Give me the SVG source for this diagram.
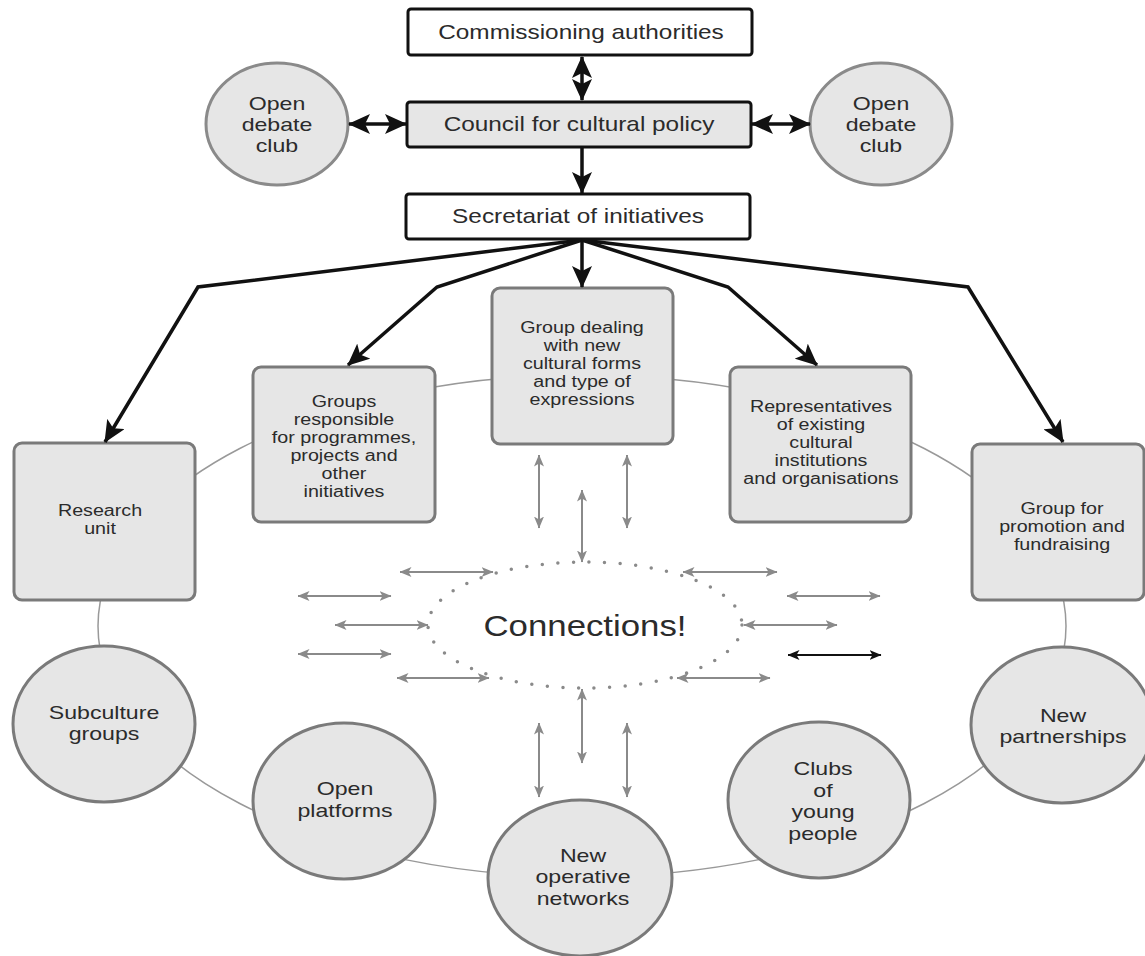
<svg xmlns="http://www.w3.org/2000/svg" width="1145" height="956" viewBox="0 0 1145 956">
<defs>
<marker id="big" markerUnits="userSpaceOnUse" markerWidth="22" markerHeight="20" viewBox="0 0 22 20" refX="21" refY="10" orient="auto-start-reverse"><path d="M0,0 L22,10 L0,20 L5,10 z" fill="#111"/></marker>
<marker id="sm" markerUnits="userSpaceOnUse" markerWidth="12" markerHeight="10" viewBox="0 0 12 10" refX="11.5" refY="5" orient="auto-start-reverse"><path d="M0,0 L12,5 L0,10 L3,5 z" fill="#8a8a8a"/></marker>
<marker id="smk" markerUnits="userSpaceOnUse" markerWidth="12" markerHeight="10" viewBox="0 0 12 10" refX="11.5" refY="5" orient="auto-start-reverse"><path d="M0,0 L12,5 L0,10 L3,5 z" fill="#111"/></marker>
</defs>
<style>
.top{fill:#fff;stroke:#111;stroke-width:3}
.topg{fill:#e6e6e6;stroke:#111;stroke-width:3}
.nd{fill:#e6e6e6;stroke:#7a7a7a;stroke-width:3}
.ring{fill:none;stroke:#999;stroke-width:1.5}
.dots{fill:none;stroke:#8a8a8a;stroke-width:3.5;stroke-linecap:round;stroke-dasharray:0 15.6}
.bl{fill:none;stroke:#111;stroke-width:3.5;stroke-linejoin:miter}
.blh{marker-end:url(#big)}
.bld{marker-start:url(#big);marker-end:url(#big)}
.gr{fill:none;stroke:#8a8a8a;stroke-width:2;marker-start:url(#sm);marker-end:url(#sm)}
.gk{fill:none;stroke:#111;stroke-width:2;marker-start:url(#smk);marker-end:url(#smk)}
.t{font-family:"Liberation Sans",Arial,Helvetica,sans-serif;fill:#2b2b2b;text-anchor:middle}
.f21{font-size:21px}.f19{font-size:18.8px}.f16{font-size:16px}.f30{font-size:30px}
</style>
<rect x="0" y="0" width="1145" height="956" fill="#ffffff"/>

<g id="ring">
<ellipse class="ring" cx="582" cy="626" rx="484" ry="251"/>
</g>

<g id="connections-hub">
<ellipse class="dots" cx="585" cy="625" rx="157" ry="63"/>
<text class="t f30" transform="translate(585 0) scale(1.16 1)" x="0" y="636">Connections!</text>
</g>

<g id="commissioning">
<rect class="top" x="408" y="9" width="344" height="46" rx="3"/>
<text class="t f21" transform="translate(581 0) scale(1.16 1)" x="0" y="39">Commissioning authorities</text>
</g>
<g id="council">
<rect class="topg" x="407" y="102" width="344" height="45" rx="3"/>
<text class="t f21" transform="translate(579 0) scale(1.16 1)" x="0" y="131">Council for cultural policy</text>
</g>
<g id="secretariat">
<rect class="top" x="406" y="194" width="344" height="45" rx="3"/>
<text class="t f21" transform="translate(578 0) scale(1.16 1)" x="0" y="223">Secretariat of initiatives</text>
</g>
<g id="debate-left">
<ellipse class="nd" cx="277" cy="124" rx="71" ry="61" style="stroke:#8a8a8a"/>
<text class="t f19" transform="translate(277 0) scale(1.23 1)"><tspan x="0" y="110">Open</tspan><tspan x="0" y="131">debate</tspan><tspan x="0" y="152">club</tspan></text>
</g>
<g id="debate-right">
<ellipse class="nd" cx="881" cy="124" rx="71" ry="61" style="stroke:#8a8a8a"/>
<text class="t f19" transform="translate(881 0) scale(1.23 1)"><tspan x="0" y="110">Open</tspan><tspan x="0" y="131">debate</tspan><tspan x="0" y="152">club</tspan></text>
</g>

<g id="research">
<rect class="nd" x="14" y="443" width="181" height="157" rx="8"/>
<text class="t f16" transform="translate(100 0) scale(1.23 1)"><tspan x="0" y="516">Research</tspan><tspan x="0" y="534">unit</tspan></text>
</g>
<g id="groups-responsible">
<rect class="nd" x="253" y="367" width="182" height="155" rx="8"/>
<text class="t f16" transform="translate(344 0) scale(1.23 1)"><tspan x="0" y="407">Groups</tspan><tspan x="0" y="425">responsible</tspan><tspan x="0" y="443">for programmes,</tspan><tspan x="0" y="461">projects and</tspan><tspan x="0" y="479">other</tspan><tspan x="0" y="497">initiatives</tspan></text>
</g>
<g id="group-dealing">
<rect class="nd" x="492" y="288" width="181" height="156" rx="8"/>
<text class="t f16" transform="translate(582 0) scale(1.23 1)"><tspan x="0" y="333">Group dealing</tspan><tspan x="0" y="351">with new</tspan><tspan x="0" y="369">cultural forms</tspan><tspan x="0" y="387">and type of</tspan><tspan x="0" y="405">expressions</tspan></text>
</g>
<g id="representatives">
<rect class="nd" x="730" y="367" width="181" height="155" rx="8"/>
<text class="t f16" transform="translate(821 0) scale(1.23 1)"><tspan x="0" y="412">Representatives</tspan><tspan x="0" y="430">of existing</tspan><tspan x="0" y="448">cultural</tspan><tspan x="0" y="466">institutions</tspan><tspan x="0" y="484">and organisations</tspan></text>
</g>
<g id="promotion">
<rect class="nd" x="972" y="444" width="172" height="156" rx="8"/>
<text class="t f16" transform="translate(1062 0) scale(1.23 1)"><tspan x="0" y="514">Group for</tspan><tspan x="0" y="532">promotion and</tspan><tspan x="0" y="550">fundraising</tspan></text>
</g>

<g id="subculture">
<ellipse class="nd" cx="104" cy="724" rx="91" ry="78"/>
<text class="t f19" transform="translate(104 0) scale(1.23 1)"><tspan x="0" y="719">Subculture</tspan><tspan x="0" y="740">groups</tspan></text>
</g>
<g id="open-platforms">
<ellipse class="nd" cx="344" cy="801" rx="91" ry="78"/>
<text class="t f19" transform="translate(345 0) scale(1.23 1)"><tspan x="0" y="795">Open</tspan><tspan x="0" y="817">platforms</tspan></text>
</g>
<g id="operative-networks">
<ellipse class="nd" cx="580" cy="878" rx="92" ry="78"/>
<text class="t f19" transform="translate(583 0) scale(1.23 1)"><tspan x="0" y="862">New</tspan><tspan x="0" y="883">operative</tspan><tspan x="0" y="905">networks</tspan></text>
</g>
<g id="clubs">
<ellipse class="nd" cx="819" cy="800" rx="91" ry="78"/>
<text class="t f19" transform="translate(823 0) scale(1.23 1)"><tspan x="0" y="775">Clubs</tspan><tspan x="0" y="797">of</tspan><tspan x="0" y="818">young</tspan><tspan x="0" y="840">people</tspan></text>
</g>
<g id="partnerships">
<ellipse class="nd" cx="1062" cy="725" rx="91" ry="78"/>
<text class="t f19" transform="translate(1063 0) scale(1.23 1)"><tspan x="0" y="722">New</tspan><tspan x="0" y="743">partnerships</tspan></text>
</g>

<g id="connectors">
<line class="bl bld" x1="582" y1="57" x2="582" y2="100"/>
<line class="bl bld" x1="349" y1="124" x2="406" y2="124"/>
<line class="bl bld" x1="752" y1="124" x2="810" y2="124"/>
<line class="bl blh" x1="582" y1="148" x2="582" y2="193"/>
<polyline class="bl blh" points="582,240 198,287 105,442"/>
<polyline class="bl blh" points="582,240 437,287 348,365"/>
<line class="bl blh" x1="582" y1="240" x2="582" y2="287"/>
<polyline class="bl blh" points="582,240 728,287 817,365"/>
<polyline class="bl blh" points="582,240 968,287 1063,442"/>

<line class="gr" x1="539" y1="455" x2="539" y2="528"/>
<line class="gr" x1="582" y1="490" x2="582" y2="562"/>
<line class="gr" x1="627" y1="455" x2="627" y2="528"/>
<line class="gr" x1="582" y1="689" x2="582" y2="763"/>
<line class="gr" x1="539" y1="723" x2="539" y2="797"/>
<line class="gr" x1="627" y1="723" x2="627" y2="797"/>

<line class="gr" x1="400" y1="572" x2="493" y2="572"/>
<line class="gr" x1="298" y1="596" x2="391" y2="596"/>
<line class="gr" x1="335" y1="625" x2="428" y2="625"/>
<line class="gr" x1="298" y1="654" x2="391" y2="654"/>
<line class="gr" x1="397" y1="678" x2="489" y2="678"/>

<line class="gr" x1="683" y1="572" x2="777" y2="572"/>
<line class="gr" x1="787" y1="596" x2="880" y2="596"/>
<line class="gr" x1="744" y1="625" x2="837" y2="625"/>
<line class="gk" x1="788" y1="655" x2="881" y2="655"/>
<line class="gr" x1="677" y1="678" x2="770" y2="678"/>
</g>
</svg>
